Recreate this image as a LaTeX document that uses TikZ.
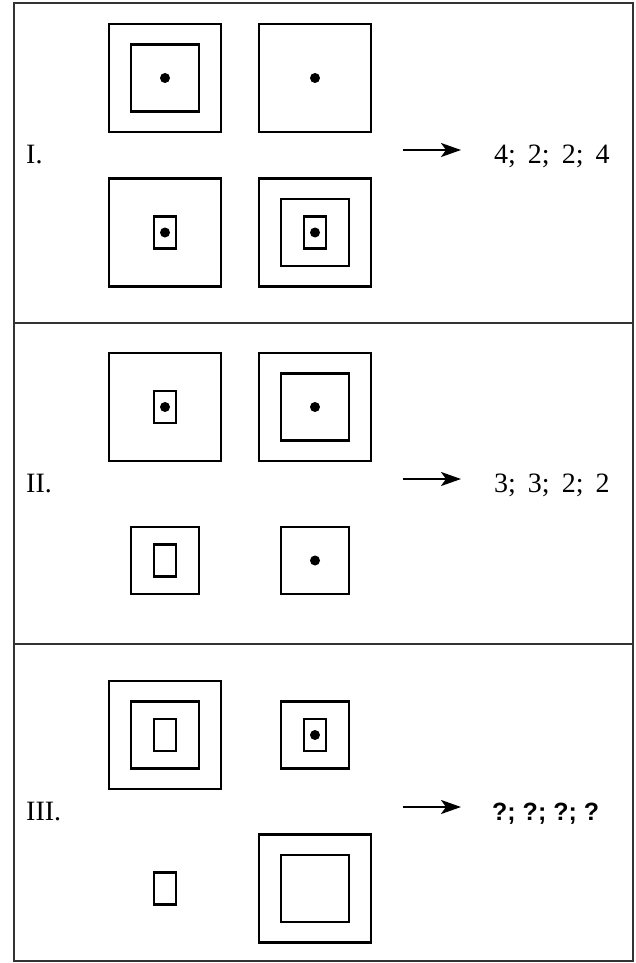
\documentclass[tikz,border=0pt]{standalone}
\usepackage{fontspec}
\setmainfont{Liberation Serif}
\setsansfont{Liberation Sans}
\usetikzlibrary{arrows.meta}

\begin{document}
\begin{tikzpicture}[x=1pt, y=-1pt,
    figline/.style={line width=2.3pt, black},
    frameline/.style={line width=1.6pt, black!80},
    rowlabel/.style={anchor=base west, inner sep=0pt, font=\fontsize{28}{32}\selectfont},
    answer/.style={anchor=base west, inner sep=0pt, font=\fontsize{28}{32}\selectfont},
    toanswer/.style={line width=2.2pt, -{Stealth[length=20pt, width=14pt, inset=5pt]}}]
    \newcommand\bigbox[2]{\draw[figline] ({#1-56}, {#2-54}) rectangle ++(112, 108);}
\newcommand\midbox[2]{\draw[figline] ({#1-34}, {#2-33.5}) rectangle ++(68, 67);}
\newcommand\tinybox[2]{\draw[figline] ({#1-11}, {#2-16}) rectangle ++(22, 32);}
\newcommand\spot[2]{\fill ({#1}, {#2}) circle (5);}
\newcommand\ansgap{\hspace{12pt}}

\useasboundingbox (0, 0) rectangle (636, 963);

% frame and dividers
\draw[frameline] (14, 3) rectangle (633, 961);
\draw[frameline] (14, 323) -- (633, 323);
\draw[frameline] (14, 644) -- (633, 644);

% row I
\bigbox{165}{78} \midbox{165}{78} \spot{165}{78}
\bigbox{315}{78} \spot{315}{78}
\bigbox{165}{232.5} \tinybox{165}{232.5} \spot{165}{232.5}
\bigbox{315}{232.5} \midbox{315}{232.5} \tinybox{315}{232.5} \spot{315}{232.5}

\node[rowlabel] (label-i) at (26, 163) {I.};
\coordinate (arrow-i-s) at (403, 150);
\coordinate (arrow-i-e) at (461, 150);
\draw[toanswer] (arrow-i-s) -- (arrow-i-e);
\node[answer] (answer-i) at (494, 163) {4;\ansgap 2;\ansgap 2;\ansgap 4};

% row II
\bigbox{165}{407} \tinybox{165}{407} \spot{165}{407}
\bigbox{315}{407} \midbox{315}{407} \spot{315}{407}
\midbox{165}{560.5} \tinybox{165}{560.5}
\midbox{315}{560.5} \spot{315}{560.5}

\node[rowlabel] (label-ii) at (26, 492) {II.};
\coordinate (arrow-ii-s) at (403, 479);
\coordinate (arrow-ii-e) at (461, 479);
\draw[toanswer] (arrow-ii-s) -- (arrow-ii-e);
\node[answer] (answer-ii) at (494, 492) {3;\ansgap 3;\ansgap 2;\ansgap 2};

% row III
\bigbox{165}{735} \midbox{165}{735} \tinybox{165}{735}
\midbox{315}{735} \tinybox{315}{735} \spot{315}{735}
\tinybox{165}{888.5}
\bigbox{315}{888.5} \midbox{315}{888.5}

\node[rowlabel] (label-iii) at (26, 820) {III.};
\coordinate (arrow-iii-s) at (403, 807);
\coordinate (arrow-iii-e) at (461, 807);
\draw[toanswer] (arrow-iii-s) -- (arrow-iii-e);
\node[answer, font=\fontsize{25}{30}\selectfont\sffamily\bfseries] (answer-iii) at (492, 820) {?; ?; ?; ?};
\end{tikzpicture}
\end{document}
